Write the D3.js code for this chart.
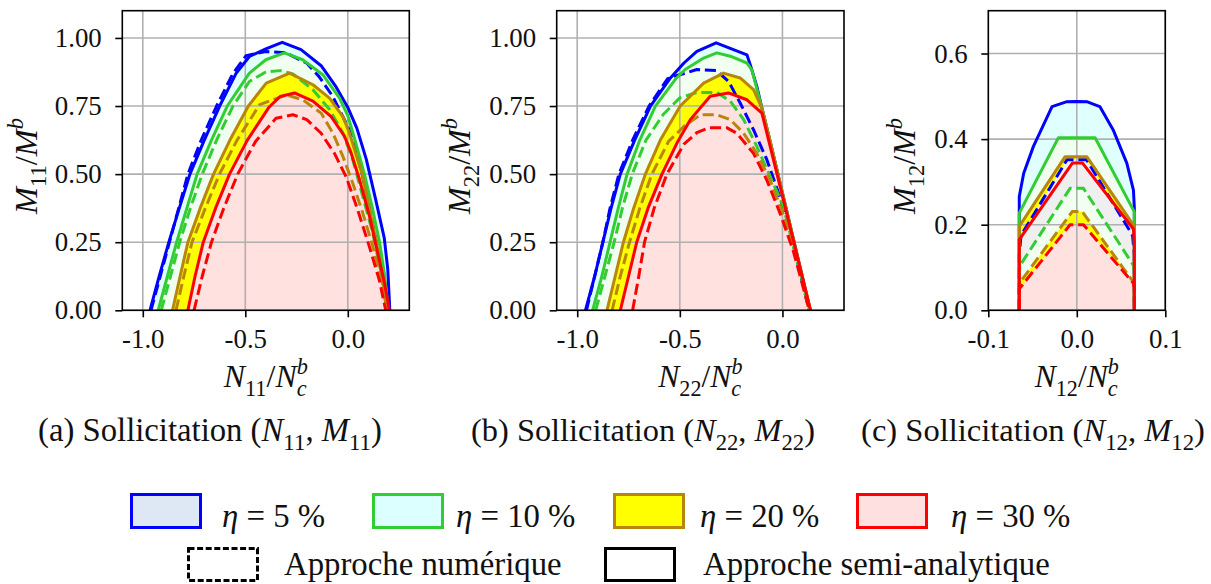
<!DOCTYPE html>
<html><head><meta charset="utf-8">
<script src="https://cdn.jsdelivr.net/npm/d3@7"></script>
</head><body style="margin:0;background:#fff">
<svg id="chart" width="1211" height="584" style="display:block;font-family:&quot;Liberation Serif&quot;"></svg>
<script>
// ---------------- DATA (N/Nc^b , M/M^b) ----------------
// Panel (a) : N11 - M11
const a_eta5_sa  = [[-0.965,0],[-0.92,0.125],[-0.873,0.25],[-0.822,0.375],[-0.77,0.5],[-0.70,0.625],[-0.625,0.75],[-0.545,0.87],[-0.48,0.932],[-0.40,0.96],[-0.32,0.984],[-0.228,0.957],[-0.13,0.898],[-0.057,0.82],[0,0.745],[0.044,0.669],[0.09,0.555],[0.135,0.41],[0.178,0.265],[0.195,0.15],[0.205,0]];
const a_eta5_num = [[-0.96,0],[-0.915,0.125],[-0.87,0.25],[-0.825,0.375],[-0.78,0.5],[-0.715,0.625],[-0.64,0.75],[-0.56,0.87],[-0.496,0.935],[-0.40,0.95],[-0.30,0.945],[-0.2,0.907],[-0.14,0.858],[-0.073,0.785],[-0.024,0.711],[0,0.675],[0.024,0.626],[0.07,0.5],[0.105,0.375],[0.14,0.25],[0.168,0.125],[0.19,0]];
const a_eta10_sa  = [[-0.925,0],[-0.88,0.125],[-0.835,0.25],[-0.785,0.375],[-0.735,0.5],[-0.665,0.625],[-0.588,0.75],[-0.48,0.871],[-0.40,0.92],[-0.309,0.945],[-0.22,0.92],[-0.122,0.865],[-0.041,0.78],[0,0.715],[0.033,0.63],[0.081,0.5],[0.12,0.375],[0.155,0.25],[0.18,0.125],[0.198,0]];
const a_eta10_num = [[-0.91,0],[-0.865,0.125],[-0.82,0.25],[-0.768,0.375],[-0.71,0.5],[-0.64,0.625],[-0.56,0.75],[-0.48,0.84],[-0.40,0.875],[-0.33,0.88],[-0.268,0.868],[-0.17,0.81],[-0.089,0.737],[-0.024,0.651],[0.024,0.553],[0.073,0.418],[0.122,0.283],[0.163,0.136],[0.193,0]];
const a_eta20_sa  = [[-0.855,0],[-0.818,0.125],[-0.78,0.25],[-0.72,0.375],[-0.655,0.5],[-0.575,0.625],[-0.485,0.75],[-0.398,0.834],[-0.284,0.871],[-0.17,0.828],[-0.089,0.779],[-0.024,0.711],[0.008,0.651],[0.045,0.56],[0.07,0.5],[0.105,0.375],[0.14,0.25],[0.168,0.125],[0.19,0]];
const a_eta20_num = [[-0.838,0],[-0.8,0.125],[-0.76,0.25],[-0.695,0.375],[-0.626,0.5],[-0.54,0.625],[-0.43,0.755],[-0.3,0.791],[-0.22,0.773],[-0.13,0.724],[-0.073,0.651],[-0.024,0.565],[0.024,0.467],[0.073,0.357],[0.122,0.235],[0.163,0.112],[0.187,0]];
const a_eta30_sa  = [[-0.78,0],[-0.745,0.125],[-0.705,0.25],[-0.645,0.375],[-0.577,0.5],[-0.49,0.625],[-0.385,0.745],[-0.33,0.785],[-0.26,0.798],[-0.17,0.768],[-0.081,0.711],[-0.016,0.639],[0.016,0.578],[0.057,0.48],[0.106,0.345],[0.146,0.21],[0.179,0.1],[0.203,0]];
const a_eta30_num = [[-0.75,0],[-0.71,0.125],[-0.665,0.25],[-0.605,0.375],[-0.537,0.5],[-0.45,0.62],[-0.35,0.705],[-0.268,0.718],[-0.2,0.7],[-0.13,0.65],[-0.065,0.576],[-0.008,0.49],[0.049,0.367],[0.106,0.232],[0.154,0.11],[0.185,0]];

// Panel (b) : N22 - M22
const b_eta5_sa  = [[-0.96,0],[-0.915,0.125],[-0.875,0.25],[-0.835,0.375],[-0.79,0.5],[-0.72,0.625],[-0.643,0.75],[-0.546,0.853],[-0.48,0.908],[-0.417,0.951],[-0.323,0.982],[-0.173,0.938],[-0.149,0.883],[-0.125,0.822],[-0.1,0.742],[-0.06,0.62],[0.0,0.43],[0.06,0.24],[0.135,0]];
const b_eta5_num = [[-0.955,0],[-0.915,0.125],[-0.875,0.25],[-0.84,0.375],[-0.797,0.5],[-0.73,0.625],[-0.65,0.75],[-0.56,0.85],[-0.513,0.862],[-0.417,0.884],[-0.32,0.88],[-0.262,0.84],[-0.206,0.761],[-0.141,0.663],[-0.076,0.553],[-0.019,0.43],[0.028,0.32],[0.066,0.2],[0.13,0]];
const b_eta10_sa  = [[-0.925,0],[-0.88,0.125],[-0.84,0.25],[-0.8,0.375],[-0.757,0.5],[-0.695,0.625],[-0.619,0.75],[-0.52,0.85],[-0.474,0.884],[-0.384,0.926],[-0.32,0.945],[-0.254,0.933],[-0.173,0.908],[-0.149,0.883],[-0.1,0.742],[-0.06,0.62],[0.0,0.43],[0.06,0.24],[0.135,0]];
const b_eta10_num = [[-0.91,0],[-0.865,0.125],[-0.82,0.25],[-0.78,0.375],[-0.732,0.5],[-0.665,0.625],[-0.58,0.72],[-0.5,0.78],[-0.417,0.8],[-0.32,0.8],[-0.254,0.768],[-0.189,0.7],[-0.125,0.602],[-0.06,0.492],[0.005,0.382],[0.058,0.22],[0.1,0.1],[0.13,0]];
const b_eta20_sa  = [[-0.855,0],[-0.815,0.125],[-0.775,0.25],[-0.725,0.375],[-0.668,0.5],[-0.595,0.625],[-0.498,0.75],[-0.384,0.834],[-0.287,0.871],[-0.206,0.853],[-0.141,0.81],[-0.1,0.742],[-0.06,0.62],[0.0,0.43],[0.06,0.24],[0.137,0]];
const b_eta20_num = [[-0.83,0],[-0.79,0.125],[-0.745,0.25],[-0.695,0.375],[-0.636,0.5],[-0.555,0.62],[-0.48,0.675],[-0.4,0.718],[-0.32,0.718],[-0.254,0.7],[-0.189,0.65],[-0.125,0.576],[-0.06,0.478],[0.003,0.355],[0.058,0.22],[0.103,0.085],[0.131,0]];
const b_eta30_sa  = [[-0.79,0],[-0.75,0.125],[-0.71,0.25],[-0.655,0.375],[-0.587,0.5],[-0.514,0.614],[-0.449,0.7],[-0.352,0.786],[-0.263,0.798],[-0.173,0.773],[-0.1,0.724],[0.0,0.42],[0.137,0]];
const b_eta30_num = [[-0.73,0],[-0.70,0.125],[-0.672,0.25],[-0.625,0.375],[-0.563,0.5],[-0.48,0.61],[-0.417,0.652],[-0.359,0.67],[-0.27,0.67],[-0.222,0.65],[-0.141,0.576],[-0.076,0.478],[-0.011,0.355],[0.052,0.22],[0.11,0.06],[0.131,0]];

// Panel (c) : N12 - M12
const c_eta5_sa  = [[-0.065,0],[-0.065,0.266],[-0.06,0.32],[-0.049,0.383],[-0.028,0.476],[-0.012,0.487],[0,0.488],[0.012,0.487],[0.026,0.476],[0.041,0.422],[0.0565,0.344],[0.064,0.281],[0.065,0.24],[0.065,0]];
const c_eta5_num = [[-0.065,0],[-0.065,0.13],[-0.063,0.175],[-0.011,0.352],[0.011,0.352],[0.063,0.175],[0.065,0.13],[0.065,0]];
const c_eta10_sa  = [[-0.065,0],[-0.065,0.227],[-0.0208,0.403],[0.0207,0.403],[0.065,0.23],[0.065,0]];
const c_eta10_num = [[-0.065,0],[-0.065,0.09],[-0.064,0.105],[-0.0076,0.285],[0.0075,0.285],[0.064,0.105],[0.065,0.09],[0.065,0]];
const c_eta20_sa  = [[-0.065,0],[-0.065,0.196],[-0.0132,0.359],[0.0113,0.359],[0.065,0.196],[0.065,0]];
const c_eta20_num = [[-0.065,0],[-0.065,0.063],[-0.005,0.231],[0.006,0.231],[0.065,0.063],[0.065,0]];
const c_eta30_sa  = [[-0.065,0],[-0.065,0.165],[-0.005,0.344],[0.0065,0.344],[0.064,0.19],[0.065,0.16],[0.065,0]];
const c_eta30_num = [[-0.065,0],[-0.065,0.05],[-0.0076,0.2],[0.0075,0.2],[0.064,0.063],[0.065,0.05],[0.065,0]];

// Ticks
const xTicksAB = [-1.0, -0.5, 0.0];
const xTickLabelsAB = ["-1.0", "-0.5", "0.0"];
const yTicksAB = [0, 0.25, 0.5, 0.75, 1.0];
const yTickLabelsAB = ["0.00", "0.25", "0.50", "0.75", "1.00"];
const xTicksC = [-0.1, 0.0, 0.1];
const xTickLabelsC = ["-0.1", "0.0", "0.1"];
const yTicksC = [0, 0.2, 0.4, 0.6];
const yTickLabelsC = ["0.0", "0.2", "0.4", "0.6"];

// Legend
const etaLabels = ["5", "10", "20", "30"];
const approachLabels = ["Approche numérique", "Approche semi-analytique"];

// ---------------- STYLE ----------------
const FONT = '"Liberation Serif"';
const LINE = {b:'#0000ff', g:'#32cd32', o:'#b8860b', r:'#ff0000'};
const FILL = {cyan:'#e0ffff', honey:'#f0fff0', yellow:'#ffff00', pink:'#ffe1df', gray:'#eeefee'};
const LEGFACE = {b:'#dee8f4', g:'#dcffff', o:'#ffff00', r:'#ffe0e0'};
const LW = 3, DASH = '11.1,4.8';

const svg = d3.select('#chart');

function makeMath(g, x, y, parts, F, anchor, rotate) {
  const t = g.append('text').attr('text-anchor', anchor || 'start').attr('font-size', F)
    .attr('font-family', 'Liberation Serif').style('font-family', FONT).attr('fill', '#111');
  if (rotate) t.attr('transform', `translate(${x},${y}) rotate(${rotate})`);
  else t.attr('x', x).attr('y', y);
  let cur = 0;
  parts.forEach(p => {
    const s = typeof p === 'string' ? {t:p} : p;
    const ts = t.append('tspan').text(s.t);
    if (s.it) ts.attr('font-style', 'italic');
    let sh = 0;
    if (s.sub) sh = F * 0.28;
    if (s.sup) sh = -F * 0.42;
    if (s.sub || s.sup) ts.attr('font-size', F * 0.7);
    if (sh - cur !== 0) ts.attr('dy', sh - cur);
    cur = sh;
    if (s.dx) ts.attr('dx', s.dx * F);
  });
  return t;
}
function measure(parts) {
  const probe = makeMath(svg, 0, -100, parts, 20, 'start');
  const w = probe.node().getComputedTextLength();
  probe.remove();
  return w;
}
function fitMath(g, x, y, parts, target, anchor, rotate) {
  const w = measure(parts);
  return makeMath(g, x, y, parts, 20 * target / w, anchor, rotate);
}

// tick font size, fitted so that "1.00" is ~47 px wide
const TICKF = 20 * 47 / measure(["1.00"]);

const panels = [
  {id:'a', left:122.3, right:409.3, xdom:[-1.1,0.3], ydom:[0,1.1],
   xt:xTicksAB, xtl:xTickLabelsAB, yt:yTicksAB, ytl:yTickLabelsAB,
   curves:{b_sa:a_eta5_sa,b_num:a_eta5_num,g_sa:a_eta10_sa,g_num:a_eta10_num,o_sa:a_eta20_sa,o_num:a_eta20_num,r_sa:a_eta30_sa,r_num:a_eta30_num},
   fills:[['b_num','cyan'],['b_sa','cyan'],['g_num','honey'],['g_sa','honey'],['o_num','yellow'],['o_sa','yellow'],['r_num','pink'],['r_sa','pink']],
   sub:'11', ylx:37, capX:210, capL:'(a)'},
  {id:'b', left:556.7, right:844, xdom:[-1.1,0.3], ydom:[0,1.1],
   xt:xTicksAB, xtl:xTickLabelsAB, yt:yTicksAB, ytl:yTickLabelsAB,
   curves:{b_sa:b_eta5_sa,b_num:b_eta5_num,g_sa:b_eta10_sa,g_num:b_eta10_num,o_sa:b_eta20_sa,o_num:b_eta20_num,r_sa:b_eta30_sa,r_num:b_eta30_num},
   fills:[['b_num','cyan'],['b_sa','cyan'],['g_num','honey'],['g_sa','honey'],['o_num','yellow'],['o_sa','yellow'],['r_num','pink'],['r_sa','pink']],
   sub:'22', ylx:470, capX:643, capL:'(b)'},
  {id:'c', left:988.3, right:1165.3, xdom:[-0.1,0.1], ydom:[0,0.7],
   xt:xTicksC, xtl:xTickLabelsC, yt:yTicksC, ytl:yTickLabelsC,
   curves:{b_sa:c_eta5_sa,b_num:c_eta5_num,g_sa:c_eta10_sa,g_num:c_eta10_num,o_sa:c_eta20_sa,o_num:c_eta20_num,r_sa:c_eta30_sa,r_num:c_eta30_num},
   fills:[['b_sa','cyan'],['g_sa','honey'],['o_sa','yellow'],['r_sa','gray'],['b_num','gray'],['g_num','honey'],['o_num','yellow'],['r_num','pink']],
   sub:'12', ylx:915, capX:1033, capL:'(c)'}
];
const TOP = 10.7, BOT = 310.3;
const lineOrder = ['b_sa','b_num','g_sa','g_num','o_sa','o_num','r_sa','r_num'];

panels.forEach(p => {
  const x = d3.scaleLinear().domain(p.xdom).range([p.left, p.right]);
  const y = d3.scaleLinear().domain(p.ydom).range([BOT, TOP]);
  const g = svg.append('g');
  const clipId = 'clip-' + p.id;
  svg.append('clipPath').attr('id', clipId).append('rect')
    .attr('x', p.left).attr('y', TOP).attr('width', p.right - p.left).attr('height', BOT - TOP);
  const plot = g.append('g').attr('clip-path', `url(#${clipId})`);

  const area = d3.area().x(d => x(d[0])).y0(y(0)).y1(d => y(d[1]));
  const line = d3.line().x(d => x(d[0])).y(d => y(d[1]));

  p.fills.forEach(([k, c]) => {
    plot.append('path').attr('d', area(p.curves[k])).attr('fill', FILL[c]).attr('stroke', 'none');
  });
  // grid
  p.xt.forEach(v => plot.append('line').attr('x1', x(v)).attr('x2', x(v)).attr('y1', TOP).attr('y2', BOT)
    .attr('stroke', '#b0b0b0').attr('stroke-width', 1.6));
  p.yt.forEach(v => plot.append('line').attr('x1', p.left).attr('x2', p.right).attr('y1', y(v)).attr('y2', y(v))
    .attr('stroke', '#b0b0b0').attr('stroke-width', 1.6));
  // lines
  lineOrder.forEach(k => {
    const col = LINE[k[0]];
    plot.append('path').attr('d', line(p.curves[k])).attr('fill', 'none')
      .attr('stroke', col).attr('stroke-width', LW).attr('stroke-linejoin', 'round')
      .attr('stroke-dasharray', k.endsWith('num') ? DASH : null);
  });
  // frame
  g.append('rect').attr('x', p.left).attr('y', TOP).attr('width', p.right - p.left).attr('height', BOT - TOP)
    .attr('fill', 'none').attr('stroke', '#000').attr('stroke-width', 1.6);

  // axes
  const xa = g.append('g').attr('transform', `translate(0,${BOT})`)
    .call(d3.axisBottom(x).tickValues(p.xt).tickFormat((d, i) => p.xtl[i]).tickSize(7));
  const ya = g.append('g').attr('transform', `translate(${p.left},0)`)
    .call(d3.axisLeft(y).tickValues(p.yt).tickFormat((d, i) => p.ytl[i]).tickSize(7));
  [xa, ya].forEach(a => {
    a.attr('font-family', 'Liberation Serif').style('font-family', FONT);
    a.select('.domain').remove();
    a.selectAll('line').attr('stroke', '#000').attr('stroke-width', 1.6);
    a.selectAll('text').attr('font-size', TICKF).attr('fill', '#111')
      .attr('font-family', 'Liberation Serif').style('font-family', FONT);
  });
  xa.selectAll('text').attr('y', 38).attr('dy', 0);
  ya.selectAll('text').attr('x', -20.5).attr('dy', '0.32em');

  // axis labels
  const cx = (p.left + p.right) / 2;
  fitMath(g, cx, 387, [{t:'N',it:1},{t:p.sub,sub:1},'/',{t:'N',it:1},{t:'c',sub:1,it:1},{t:'b',sup:1,it:1,dx:-0.31}], 94, 'middle');
  fitMath(g, p.ylx, 166, [{t:'M',it:1},{t:p.sub,sub:1},'/',{t:'M',it:1},{t:'b',sup:1,it:1}], 96, 'middle', -90);

  // caption
  fitMath(svg, p.capX, 441, [p.capL + ' Sollicitation (', {t:'N',it:1},{t:p.sub,sub:1}, ', ', {t:'M',it:1},{t:p.sub,sub:1}, ')'], 344, 'middle');
});

// ---------------- LEGEND ----------------
const leg = svg.append('g');
const LF = 20 * 347 / measure([approachLabels[1]]);

const row1 = [
  {k:'b', px:131.5, tx:222},
  {k:'g', px:373.5, tx:456},
  {k:'o', px:614.5, tx:700},
  {k:'r', px:857.5, tx:951}
];
row1.forEach((r, i) => {
  leg.append('rect').attr('x', r.px).attr('y', 494.5).attr('width', 69).attr('height', 33)
    .attr('fill', LEGFACE[r.k]).attr('stroke', LINE[r.k]).attr('stroke-width', 3);
  makeMath(leg, r.tx, 527, [{t:'η',it:1}, ' = ' + etaLabels[i] + ' %'], LF, 'start');
});
const row2 = [
  {dash:'6,2.6', px:188.5, tx:284},
  {dash:null, px:605.5, tx:703}
];
row2.forEach((r, i) => {
  leg.append('rect').attr('x', r.px).attr('y', 548.5).attr('width', 69).attr('height', 32)
    .attr('fill', '#fff').attr('stroke', '#000').attr('stroke-width', 3)
    .attr('stroke-dasharray', r.dash);
  makeMath(leg, r.tx, 575, [approachLabels[i]], LF, 'start');
});
</script>
</body></html>
